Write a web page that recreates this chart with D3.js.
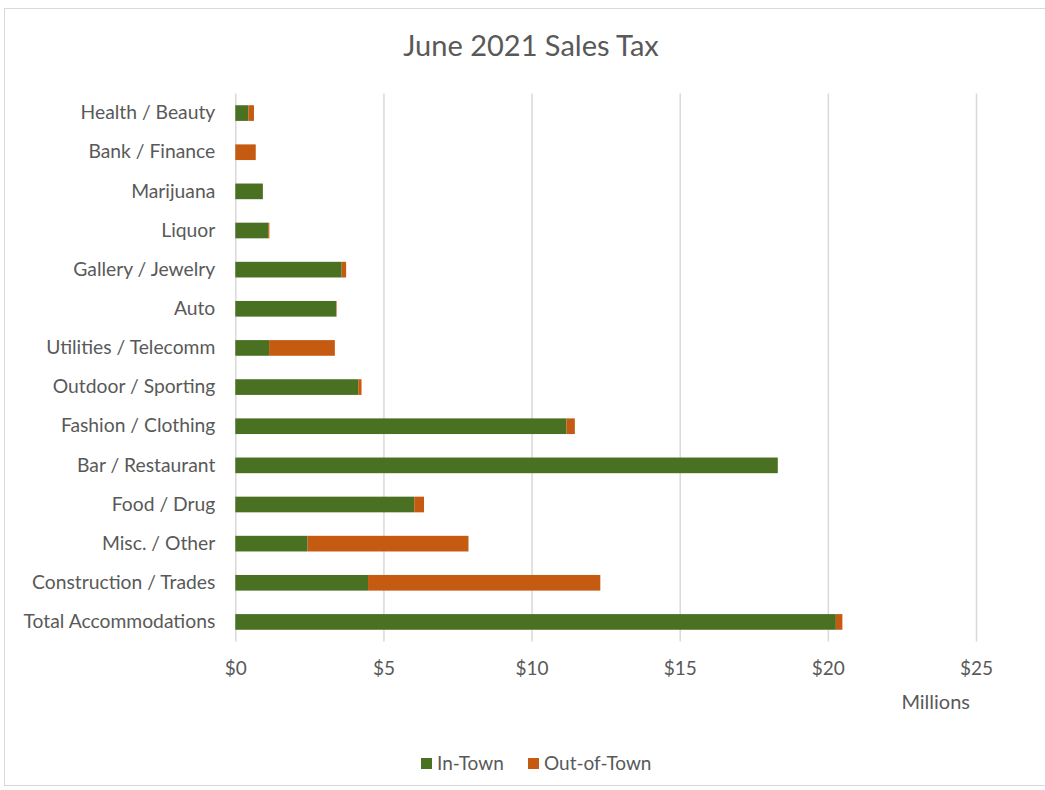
<!DOCTYPE html>
<html><head><meta charset="utf-8">
<script src="https://cdn.jsdelivr.net/npm/d3@7"></script>
<style>body{margin:0;background:#fff}text{font-family:Lato,sans-serif;fill:#595959}</style>
</head><body><svg id="c" width="1045" height="790"></svg>
<script>
const categories = ["Health / Beauty","Bank / Finance","Marijuana","Liquor","Gallery / Jewelry","Auto","Utilities / Telecomm","Outdoor / Sporting","Fashion / Clothing","Bar / Restaurant","Food / Drug","Misc. / Other","Construction / Trades","Total Accommodations"];
const inTown = [0.44,0,0.93,1.11,3.59,3.40,1.14,4.15,11.18,18.31,6.04,2.44,4.48,20.27];
const outOfTown = [0.19,0.69,0,0.04,0.15,0.02,2.22,0.11,0.28,0,0.33,5.43,7.84,0.22];
const seriesNames = ["In-Town","Out-of-Town"];
const colors = ["#4a7021","#c55a11"];
const xTicks = [0,5,10,15,20,25];

const svg = d3.select("#c");
svg.append("rect").attr("x",4.5).attr("y",8.5).attr("width",1050).attr("height",777).attr("fill","#fff").attr("stroke","#d9d9d9");

const x = d3.scaleLinear().domain([0,25]).range([235.3,976]);
const y = d3.scaleBand().domain(categories).range([93.5,641.5]).paddingInner(0.6).paddingOuter(0.3);

svg.append("text").attr("x",531).attr("y",56).attr("text-anchor","middle").style("font-size","29px").text("June 2021 Sales Tax");

const grid = svg.append("g").attr("transform","translate(0,641.5)")
  .call(d3.axisBottom(x).tickValues(xTicks).tickSize(-548).tickFormat(d=>"$"+d).tickPadding(20));
grid.select(".domain").remove();
grid.selectAll(".tick line").attr("stroke","#d9d9d9").attr("stroke-width",1.5);
grid.selectAll(".tick text").style("font-size","19px").attr("fill","#595959");

const data = categories.map((c,i)=>({cat:c, "In-Town":inTown[i], "Out-of-Town":outOfTown[i]}));
const stacked = d3.stack().keys(seriesNames)(data);
svg.append("g").selectAll("g").data(stacked).join("g").attr("fill",(d,i)=>colors[i])
  .selectAll("rect").data(d=>d).join("rect")
  .attr("x",d=>x(d[0])).attr("width",d=>Math.max(0,x(d[1])-x(d[0])))
  .attr("y",d=>y(d.data.cat)).attr("height",y.bandwidth());

const ya = svg.append("g").attr("transform","translate(235.3,0)").call(d3.axisLeft(y).tickSize(0).tickPadding(20));
ya.select(".domain").remove();
ya.selectAll(".tick text").style("font-size","19.3px").attr("fill","#595959");

svg.append("text").attr("x",970).attr("y",709).attr("text-anchor","end").style("font-size","20px").text("Millions");

const lg = svg.append("g");
const items = [{n:"In-Town",x:421},{n:"Out-of-Town",x:528}];
items.forEach((it,i)=>{
  lg.append("rect").attr("x",it.x).attr("y",758).attr("width",11).attr("height",11).attr("fill",colors[i]);
  lg.append("text").attr("x",it.x+16).attr("y",770).style("font-size","19px").text(it.n);
});
</script></body></html>
